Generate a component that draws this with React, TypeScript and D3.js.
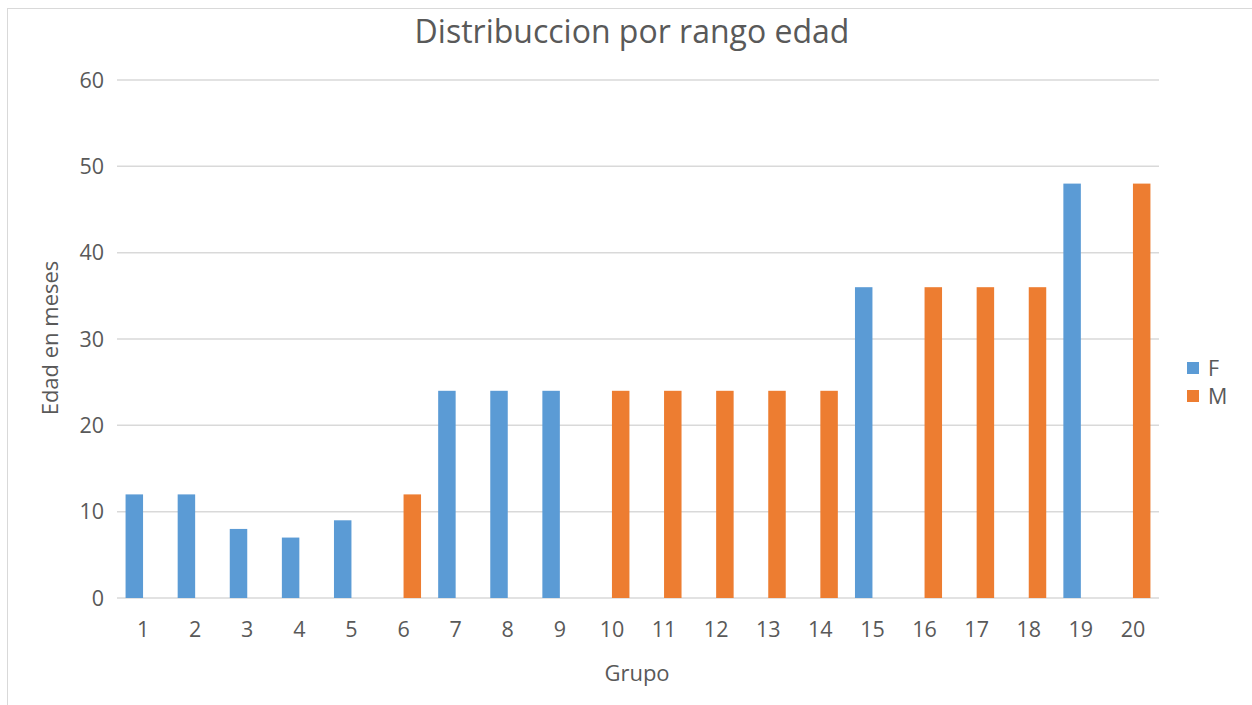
import React from 'react'
import * as d3 from 'd3'

const grupos = ['1', '2', '3', '4', '5', '6', '7', '8', '9', '10', '11', '12', '13', '14', '15', '16', '17', '18', '19', '20']
const series = ['F', 'M']
// 0 = no bar for that group
const valoresF = [12, 12, 8, 7, 9, 0, 24, 24, 24, 0, 0, 0, 0, 0, 36, 0, 0, 0, 48, 0]
const valoresM = [0, 0, 0, 0, 0, 12, 0, 0, 0, 24, 24, 24, 24, 24, 0, 36, 36, 36, 0, 48]
const yTicks = [0, 10, 20, 30, 40, 50, 60]

const colors: Record<string, string> = { F: '#5b9bd5', M: '#ed7d31' }
const textColor = '#595959'
const font = '"Open Sans", sans-serif'

export default function App() {
  const width = 1252
  const height = 705
  const margin = { top: 80, right: 93, bottom: 107, left: 117 }
  const w = width - margin.left - margin.right
  const h = 598 - margin.top

  const x = d3.scaleBand().domain(grupos).range([0, w]).padding(0)
  const inner = d3.scaleBand().domain(series).range([0, x.bandwidth()]).paddingOuter(0.49).paddingInner(0)
  const y = d3.scaleLinear().domain([0, 60]).range([h, 0])

  const data = series.map((s) => ({
    key: s,
    values: s === 'F' ? valoresF : valoresM
  }))

  return (
    <svg width={width} height={height} style={{ position: 'absolute', left: 0, top: 0, fontFamily: font }}>
      <rect x={7.5} y={8.5} width={1260} height={710} fill="#fff" stroke="#d9d9d9" />
      <text x={632} y={43} textAnchor="middle" fontSize={32} fill={textColor}>Distribuccion por rango edad</text>
      <g transform={`translate(${margin.left},${margin.top})`}>
        {yTicks.map((t) => (
          <g key={t}>
            <line x1={0} x2={w} y1={y(t)} y2={y(t)} stroke="#d9d9d9" strokeWidth={1.5} />
            <text x={-13} y={y(t)} dy="0.35em" textAnchor="end" fontSize={21.5} fill={textColor}>{t}</text>
          </g>
        ))}
        {data.map((s) => (
          <g key={s.key} fill={colors[s.key]}>
            {s.values.map((v, i) =>
              v > 0 ? (
                <rect key={i}
                  x={(x(grupos[i]) || 0) + (inner(s.key) || 0)}
                  y={y(v)}
                  width={inner.bandwidth()}
                  height={h - y(v)} />
              ) : null
            )}
          </g>
        ))}
        {grupos.map((g) => (
          <text key={g} x={(x(g) || 0) + x.bandwidth() / 2} y={h + 31} dy="0.35em" textAnchor="middle" fontSize={21.5} fill={textColor}>{g}</text>
        ))}
      </g>
      <text x={637} y={673} dy="0.35em" textAnchor="middle" fontSize={22} fill={textColor}>Grupo</text>
      <text transform="translate(50,338) rotate(-90)" dy="0.35em" textAnchor="middle" fontSize={22} fill={textColor}>Edad en meses</text>
      {series.map((s, i) => (
        <g key={s} transform={`translate(1187,${362 + i * 28})`}>
          <rect width={12} height={12} fill={colors[s]} />
          <text x={21} y={6} dy="0.35em" fontSize={21.5} fill={textColor}>{s}</text>
        </g>
      ))}
    </svg>
  )
}
